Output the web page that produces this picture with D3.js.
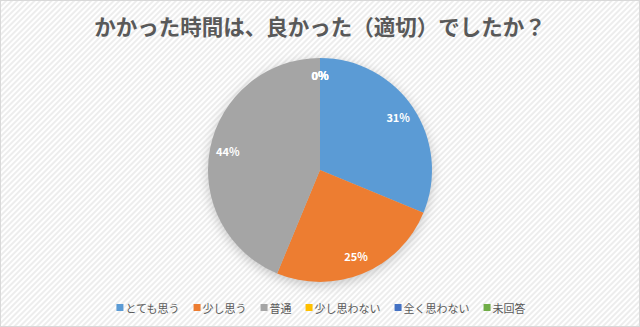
<!DOCTYPE html>
<html><head><meta charset="utf-8">
<script src="https://cdn.jsdelivr.net/npm/d3@7"></script>
<style>html,body{margin:0;padding:0;background:#fff;}svg{display:block;}</style>
</head><body>
<script>
const title = "かかった時間は、良かった（適切）でしたか？";
const categories = ["とても思う","少し思う","普通","少し思わない","全く思わない","未回答"];
const counts = [5,4,7,0,0,0];
const colors = ["#5B9BD5","#ED7D31","#A5A5A5","#FFC000","#4472C4","#70AD47"];

const W = 640, H = 327;
const svg = d3.select("body").append("svg").attr("width", W).attr("height", H);
const defs = svg.append("defs");
const pat = defs.append("pattern").attr("id","stripes").attr("patternUnits","userSpaceOnUse")
  .attr("width",4).attr("height",4).attr("patternTransform","rotate(-45)");
pat.append("rect").attr("width",4).attr("height",4).attr("fill","#ffffff");
pat.append("rect").attr("width",4).attr("height",2).attr("fill","#ededed");
const blur = defs.append("filter").attr("id","blur").attr("x","-30%").attr("y","-30%").attr("width","160%").attr("height","160%");
blur.append("feGaussianBlur").attr("stdDeviation",6);

svg.append("rect").attr("x",0.5).attr("y",0.5).attr("width",W-1).attr("height",H-1)
  .attr("fill","url(#stripes)").attr("stroke","#d9d9d9");

svg.append("text").attr("x", W/2).attr("y", 35).attr("text-anchor","middle")
  .attr("font-family","'Noto Sans CJK JP'").attr("font-weight","bold").attr("font-size",21.5)
  .attr("fill","#595959").text(title);

const cx = 320, cy = 170, R = 112;
const total = d3.sum(counts);
const pie = d3.pie().sort(null).value(d => d)(counts);
const arc = d3.arc().innerRadius(0).outerRadius(R);
const labelArc = d3.arc().innerRadius(94).outerRadius(94);
const g = svg.append("g").attr("transform",`translate(${cx},${cy})`);
g.append("circle").attr("cx",0).attr("cy",3).attr("r",R).attr("fill","#9a9a9a").attr("opacity",0.55).attr("filter","url(#blur)");
g.selectAll("path.slice").data(pie).join("path").attr("class","slice")
  .attr("d", arc).attr("fill",(d,i)=>colors[i]);
const fmt = v => Math.round(v/total*100) + "%";
g.selectAll("text.lbl").data(pie).join("text").attr("class","lbl")
  .attr("transform", d => { const c = labelArc.centroid(d); return `translate(${c[0]},${c[1]})`; })
  .attr("text-anchor","middle").attr("dy","0.35em")
  .attr("font-family","'Noto Sans CJK JP'").attr("font-weight","bold").attr("font-size",11)
  .attr("fill","#ffffff").text(d => fmt(d.data));

// legend
const leg = svg.append("g");
const fs = 11;
const items = leg.selectAll("g").data(categories).join("g");
items.append("rect").attr("width",7).attr("height",7).attr("y",-6).attr("fill",(d,i)=>colors[i]);
items.append("text").attr("x",9).attr("y",0).attr("dy","0.5em").attr("transform","translate(0,-3)")
  .attr("font-family","'Noto Sans CJK JP'").attr("font-size",fs).attr("fill","#595959").text(d=>d);
let x = 0; const gap = 14;
items.each(function(){
  const w = this.querySelector("text").getComputedTextLength();
  d3.select(this).attr("transform",`translate(${x},0)`);
  x += 9 + w + gap;
});
const totalW = x - gap;
leg.attr("transform",`translate(${(W-totalW)/2+1},310)`);
</script>
</body></html>
